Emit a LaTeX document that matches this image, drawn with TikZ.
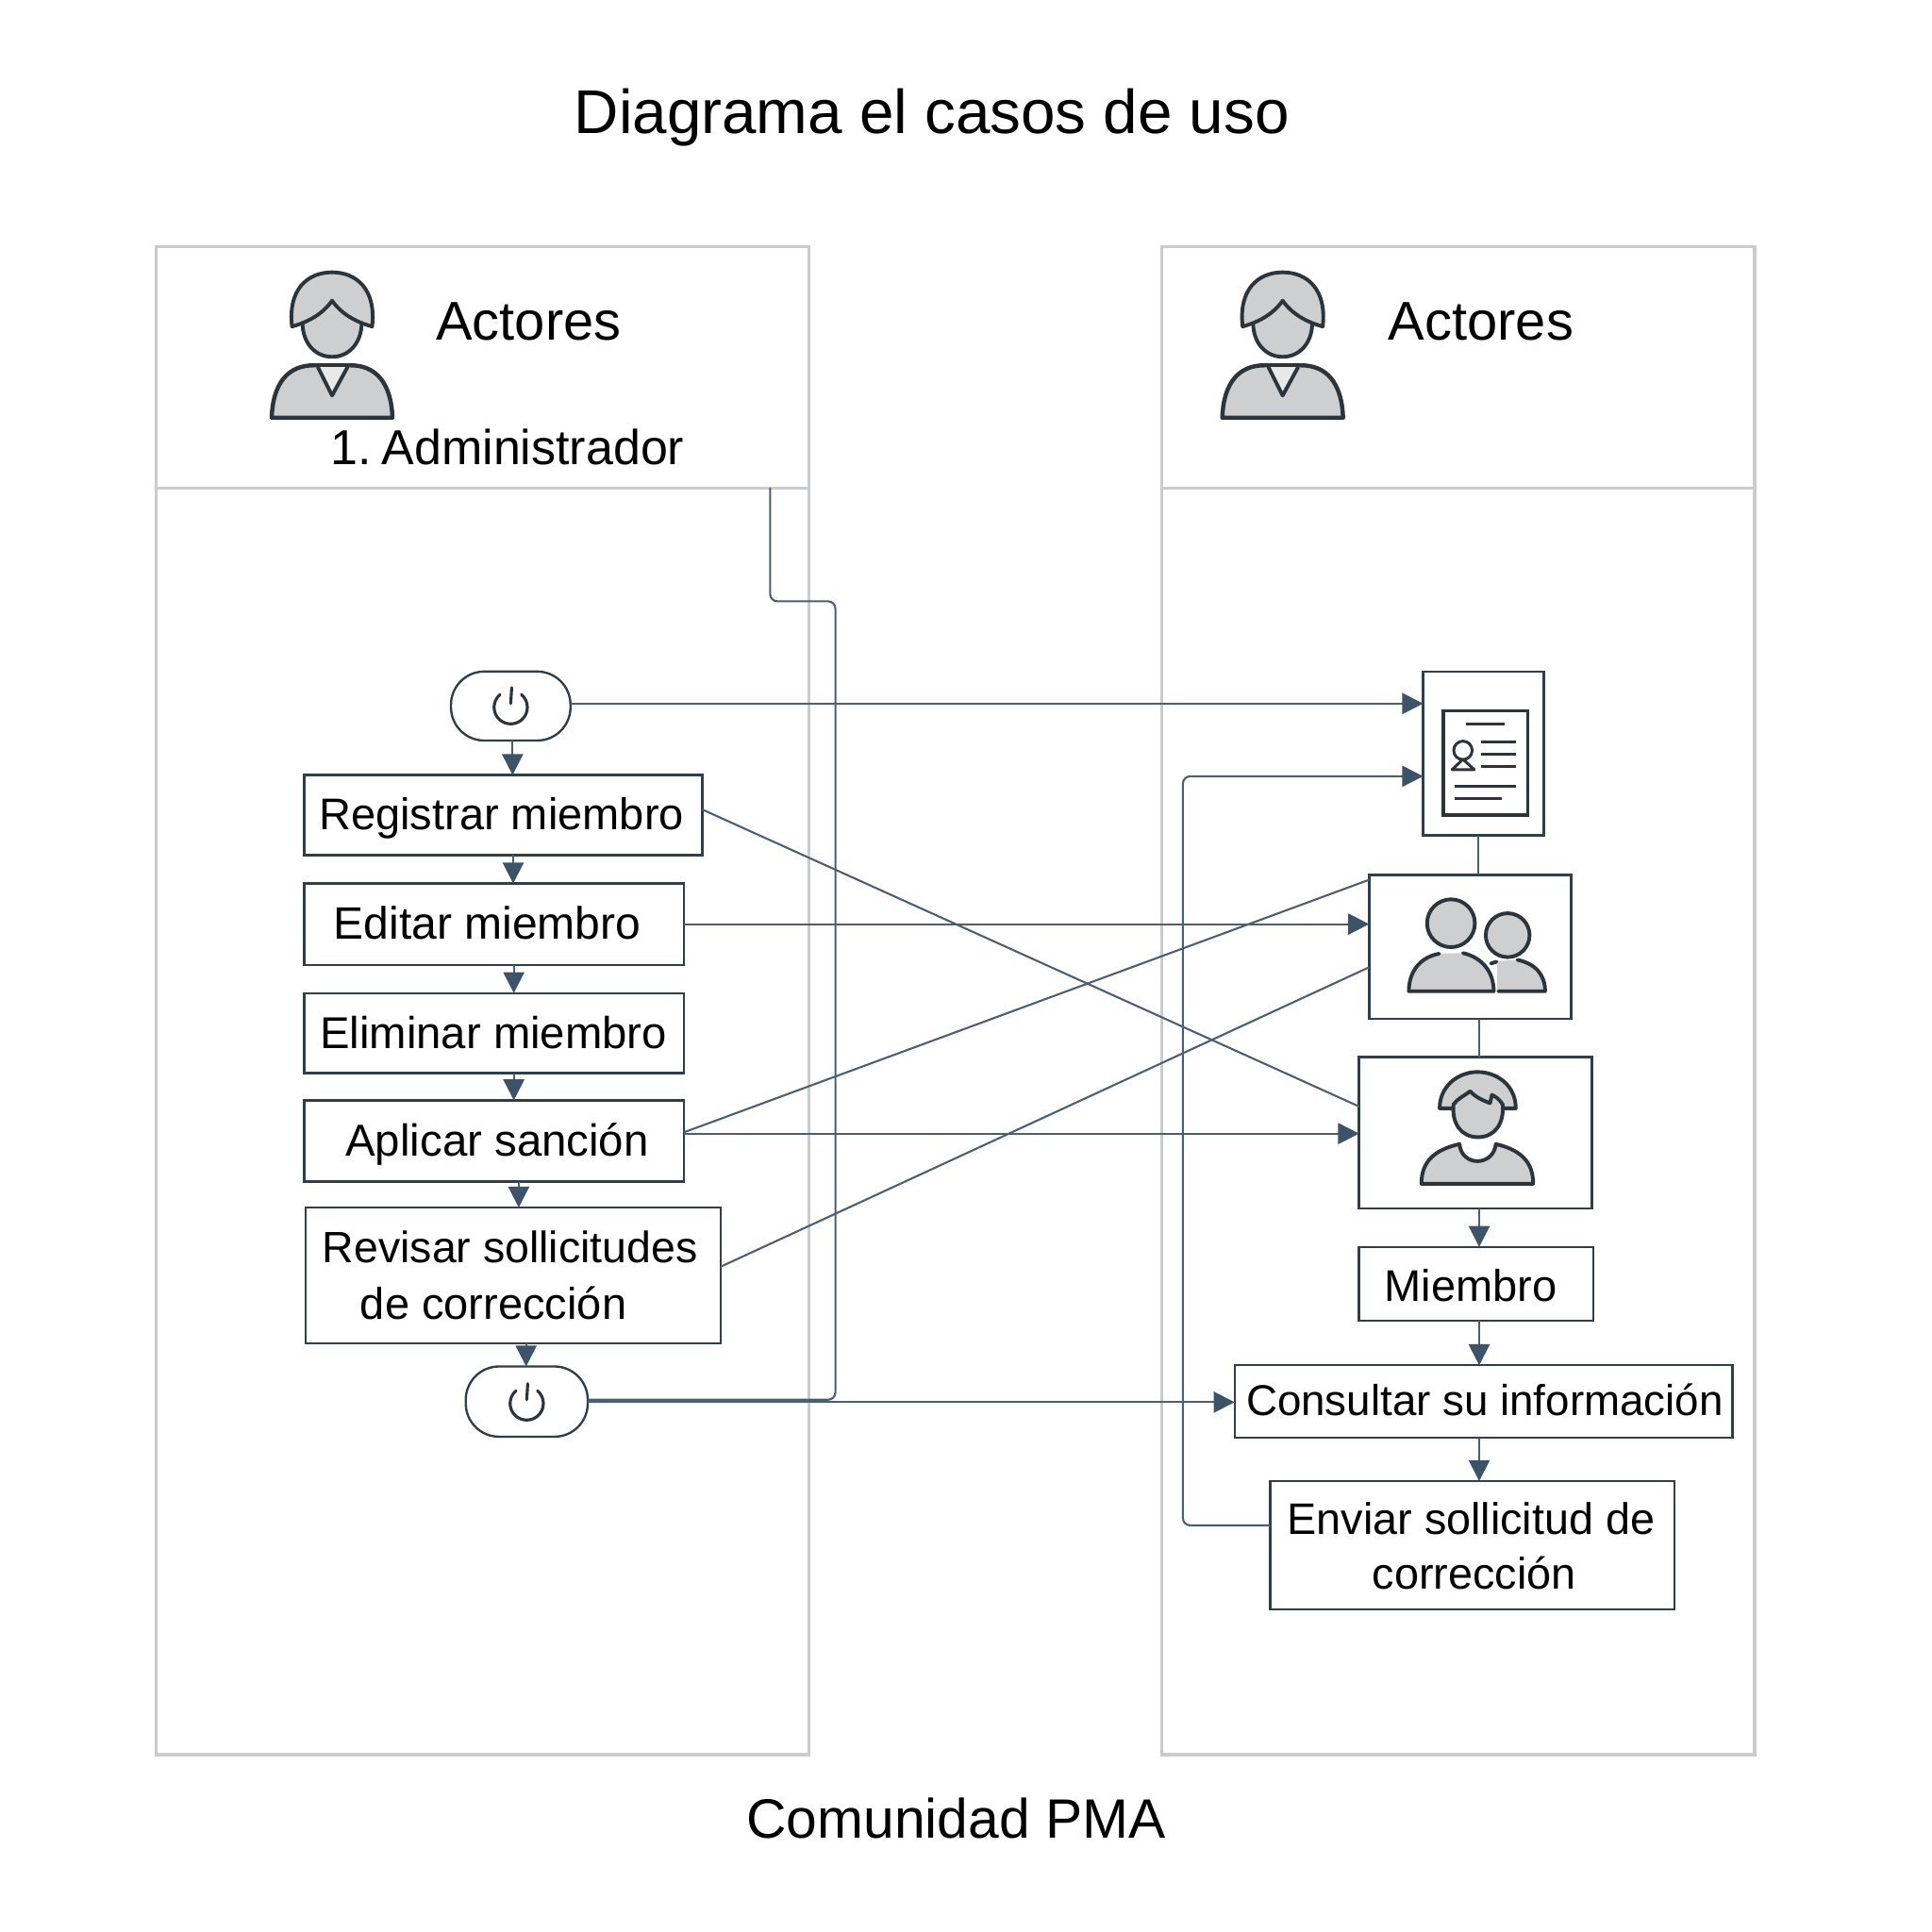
\documentclass[tikz,border=0pt]{standalone}
\usepackage{fontspec}
\setmainfont{Liberation Sans}
\usetikzlibrary{arrows.meta}
\definecolor{panelgray}{HTML}{C9CBCD}
\definecolor{boxline}{HTML}{2F3E4C}
\definecolor{wire}{HTML}{4A5F73}
\definecolor{tipblue}{HTML}{3D5369}
\definecolor{icondark}{HTML}{2C343C}
\definecolor{iconfill}{HTML}{CDCFD1}
\definecolor{collar}{HTML}{E7E8E9}
% text set at an offset (dx right, dy down) from the centre of its node, size s
\newcommand{\tx}[4]{\makebox[0pt]{\hspace*{\dimexpr #1pt*2\relax}\raisebox{\dimexpr -#2pt\relax}[0pt][0pt]{\fontsize{#3}{#3}\selectfont #4}}}
\tikzset{
  x=1pt,y=-1pt,
  panelbox/.style={draw=panelgray,line width=2.5pt,inner sep=0pt,outer sep=0pt},
  stepbox/.style={draw=boxline,line width=1.8pt,fill=white,inner sep=0pt,outer sep=0pt,text=black},
  termbox/.style={stepbox,rounded corners=27pt},
  plain/.style={inner sep=0pt,outer sep=0pt,text=black,anchor=base},
  wireline/.style={draw=wire,line width=1.6pt},
  arrowline/.style={wireline,-{Triangle[length=17pt,width=17pt,color=tipblue,fill=tipblue]}},
  iconline/.style={draw=icondark,line width=3pt,line join=round,line cap=round},
  iconsolid/.style={iconline,fill=iconfill},
  actoricon/.pic={
    \path[iconsolid] (-24,262) .. controls (-24,278) and (-14,289.6) .. (0,289.6) .. controls (14,289.6) and (24,278) .. (24,262) -- (24,245) -- (-24,245) -- cycle;
    \path[iconsolid] (-32.5,265) .. controls (-36,235) and (-20,221) .. (0,221) .. controls (20,221) and (36,235) .. (32.5,265) .. controls (18,261) and (7,254) .. (0,244) .. controls (-7,254) and (-18,261) .. cycle;
    \path[iconsolid,line width=3.4pt] (-49,339) .. controls (-48,310) and (-35,296.5) .. (-15,296.5) -- (15,296.5) .. controls (35,296.5) and (48,310) .. (49,339) -- cycle;
    \path[iconline,fill=collar] (-11.5,298) -- (0,321) -- (12.5,298);
  },
  poweicon/.pic={
    \draw[draw=icondark,line width=2.4pt,line cap=round] (8.7,-10.3) .. controls (12,-7.5) and (13.5,-3.5) .. (13.5,0) .. controls (13.5,7.5) and (7.5,13.5) .. (0,13.5) .. controls (-7.5,13.5) and (-13.5,7.5) .. (-13.5,0) .. controls (-13.5,-3.5) and (-12,-7.5) .. (-8.7,-10.3);
    \draw[draw=icondark,line width=2.4pt,line cap=round] (0.8,-16) -- (0,-3);
  }
}
\begin{document}
\begin{tikzpicture}
\useasboundingbox (0,0) rectangle (1568,1568);
\fill[white] (0,0) rectangle (1568,1568);

% title and footer
\node[plain] (title) at (756.3,108) {\fontsize{50.2}{50.2}\selectfont Diagrama el casos de uso};
\node[plain] (foot) at (776,1492) {\fontsize{45}{45}\selectfont Comunidad PMA};

% swimlanes
\node[panelbox,minimum width=529.5pt,minimum height=1028pt] (llane) at (391.7,910) {};
\node[panelbox,minimum width=529.5pt,minimum height=196pt] (lhead) at (391.7,298) {};
\node[panelbox,minimum width=481pt,minimum height=1028pt] (rlane) at (1183.5,910) {};
\node[panelbox,minimum width=481pt,minimum height=196pt] (rhead) at (1183.5,298) {};

\pic at (269.5,0) {actoricon};
\pic at (1041,0) {actoricon};
\node[plain] (acta) at (429,276) {\fontsize{44.3}{44.3}\selectfont Actores};
\node[plain] (actb) at (1202,276) {\fontsize{44.3}{44.3}\selectfont Actores};
\node[plain] (adm) at (412,377) {\fontsize{39.8}{39.8}\selectfont 1.\hspace{0.2em}Administrador};

% left column
\node[termbox,minimum width=97pt,minimum height=56pt] (sta) at (414.5,573) {};
\node[stepbox,minimum width=323pt,minimum height=65pt] (reg) at (408.5,661.5) {\tx{-1.5}{11.5}{36}{Registrar miembro}};
\node[stepbox,minimum width=308pt,minimum height=66pt] (edi) at (401,750) {\tx{-5.5}{12}{36.8}{Editar miembro}};
\node[stepbox,minimum width=308pt,minimum height=65pt] (eli) at (401,838.5) {\tx{-0.5}{12.5}{36.2}{Eliminar miembro}};
\node[stepbox,minimum width=308pt,minimum height=66pt] (apl) at (401,926) {\tx{2.5}{12}{36.3}{Aplicar sanción}};
\node[stepbox,minimum width=337pt,minimum height=110pt] (rev) at (416.5,1035) {\tx{-2.5}{-10}{35.6}{Revisar sollicitudes}\tx{-16}{36}{36}{de corrección}};
\node[termbox,minimum width=99pt,minimum height=57pt] (fin) at (427.5,1137.5) {};
\pic at (414.5,574) {poweicon};
\pic at (427.5,1139) {poweicon};

% right column
\node[stepbox,minimum width=98pt,minimum height=133pt] (doc) at (1204,611.5) {};
\node[stepbox,minimum width=164pt,minimum height=117pt] (grp) at (1193.2,768.5) {};
\node[stepbox,minimum width=189pt,minimum height=123pt] (per) at (1197.5,919.5) {};
\node[stepbox,minimum width=190pt,minimum height=60pt] (mie) at (1198,1042) {\tx{-4.5}{14}{36}{Miembro}};
\node[stepbox,minimum width=404pt,minimum height=59pt] (con) at (1204,1137.5) {\tx{1}{11.5}{35}{Consultar su información}};
\node[stepbox,minimum width=328pt,minimum height=104pt] (env) at (1195,1254) {\tx{-1}{-9}{35.8}{Enviar sollicitud de}\tx{1.5}{36}{35.8}{corrección}};

% document icon
\draw[draw=icondark,line width=2.8pt] (1171.5,577) rectangle (1240,661.5);
\begin{scope}[iconline,line width=2.3pt,line cap=butt]
  \draw (1190,587.7) -- (1221,587.7);
  \draw (1202,602.5) -- (1230.7,602.5);
  \draw (1202,612.2) -- (1230.7,612.2);
  \draw (1202,621.9) -- (1230.7,621.9);
  \draw (1180.5,638.5) -- (1230.7,638.5);
  \draw (1180.5,648.2) -- (1218.7,648.2);
  \draw (1187.3,609) circle[radius=7.5pt];
  \draw (1178.5,624.6) -- (1187.3,616.2) -- (1196.5,624.6) -- cycle;
\end{scope}

% two-person icon
\fill[iconfill] (1215,804.5) -- (1215,780) -- (1231.5,779) .. controls (1246,782) and (1254,791) .. (1254,804.5) -- cycle;
\path[iconline,fill=iconfill] (1223.6,759) circle[radius=17.8pt];
\fill[iconfill] (1168,774) .. controls (1152,777) and (1143.4,789) .. (1143.4,804.5) -- (1212.3,804.5) .. controls (1212.3,789) and (1203,777) .. (1187.3,773.5) -- cycle;
\path[iconline,fill=iconfill] (1177.6,749.3) circle[radius=19.4pt];
\draw[iconline] (1168,774) .. controls (1152,777) and (1143.4,789) .. (1143.4,804.5) -- (1212.3,804.5) .. controls (1212.3,789) and (1203,777) .. (1187.3,773.5);
\draw[iconline] (1231.5,779) .. controls (1246,782) and (1254,791) .. (1254,804.5) -- (1216,804.5);
\draw[iconline] (1210,782) -- (1214.5,780.5);

% person icon
\path[iconsolid] (1168.4,899.5) .. controls (1168.4,881) and (1184,870) .. (1199,870) .. controls (1215,870) and (1230.2,881) .. (1230.2,899.5) -- cycle;
\path[iconsolid] (1179.7,896.2) .. controls (1178,912) and (1186,922.9) .. (1199.5,922.9) .. controls (1213,922.9) and (1221,912) .. (1219.5,896.2) .. controls (1217,892) and (1213,889.5) .. (1210.8,888.6) -- (1209.3,895.3) .. controls (1203,893) and (1197,890) .. (1193.2,885.6) .. controls (1189,889) and (1183,891.5) .. cycle;
\path[iconsolid] (1153.6,960.7) .. controls (1153.6,942) and (1165,933) .. (1184.5,928.5) .. controls (1186,947) and (1212,947) .. (1214,928.5) .. controls (1233,933) and (1244.3,942) .. (1244.3,960.7) -- cycle;

% connectors
\begin{scope}[rounded corners=6pt]
  \draw[wireline] (fin.east |- 0,1136) -- (678,1136) -- (678,488) -- (625,488) -- (lhead.south -| 625,0);
  \draw[arrowline] (env.west |- 0,1238) -- (960,1238) -- (960,630) -- (doc.west |- 0,630);
\end{scope}
\draw[arrowline] (sta.east |- 0,571) -- (doc.west |- 0,571);
\draw[wireline] (reg.east |- 0,657) -- (per.west |- 0,898);
\draw[arrowline] (edi.east |- 0,750) -- (grp.west |- 0,750);
\draw[wireline] (apl.east |- 0,919) -- (grp.west |- 0,714);
\draw[arrowline] (apl.east |- 0,920) -- (per.west |- 0,920);
\draw[wireline] (rev.east |- 0,1028) -- (grp.west |- 0,785);
\draw[arrowline] (fin.east |- 0,1138) -- (con.west |- 0,1138);

\draw[arrowline] (sta.south -| 416,0) -- (reg.north -| 416,0);
\draw[arrowline] (reg.south -| 416.5,0) -- (edi.north -| 416.5,0);
\draw[arrowline] (edi.south -| 417,0) -- (eli.north -| 417,0);
\draw[arrowline] (eli.south -| 417,0) -- (apl.north -| 417,0);
\draw[arrowline] (apl.south -| 421,0) -- (rev.north -| 421,0);
\draw[arrowline] (rev.south -| 427,0) -- (fin.north -| 427,0);
\draw[wireline] (doc.south -| 1200,0) -- (grp.north -| 1200,0);
\draw[wireline] (grp.south -| 1200.5,0) -- (per.north -| 1200.5,0);
\draw[arrowline] (per.south -| 1200.5,0) -- (mie.north -| 1200.5,0);
\draw[arrowline] (mie.south -| 1200.5,0) -- (con.north -| 1200.5,0);
\draw[arrowline] (con.south -| 1200.5,0) -- (env.north -| 1200.5,0);
\end{tikzpicture}
\end{document}
